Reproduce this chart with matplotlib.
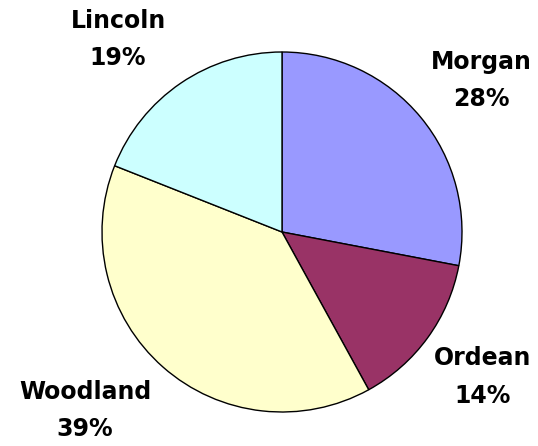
import matplotlib
matplotlib.use("Agg")
import matplotlib.pyplot as plt

labels = ["Morgan", "Ordean", "Woodland", "Lincoln"]
values = [28, 14, 39, 19]
colors = ["#9999FF", "#993366", "#FFFFCC", "#CCFFFF"]

W, H = 538, 446
fig = plt.figure(figsize=(W / 100, H / 100), dpi=100)
cx, cy, r = 282, 232, 180
ax = fig.add_axes([(cx - r) / W, (H - cy - r) / H, 2 * r / W, 2 * r / H])
ax.pie(values, colors=colors, startangle=90, counterclock=False,
       wedgeprops=dict(edgecolor="black", linewidth=1.0), radius=1.0)
ax.set_xlim(-1, 1)
ax.set_ylim(-1, 1)
ax.set_aspect("equal")
ax.axis("off")

label_pos = [(1.11, 0.84), (1.117, -0.806), (-1.094, -0.99), (-0.911, 1.07)]
for lab, v, (x, y) in zip(labels, values, label_pos):
    ax.text(x, y, f"{lab}\n{v}%", ha="center", va="center", fontsize=17,
            fontweight="bold", family="DejaVu Sans", linespacing=1.7,
            clip_on=False)

fig.savefig("out.png", dpi=100)
